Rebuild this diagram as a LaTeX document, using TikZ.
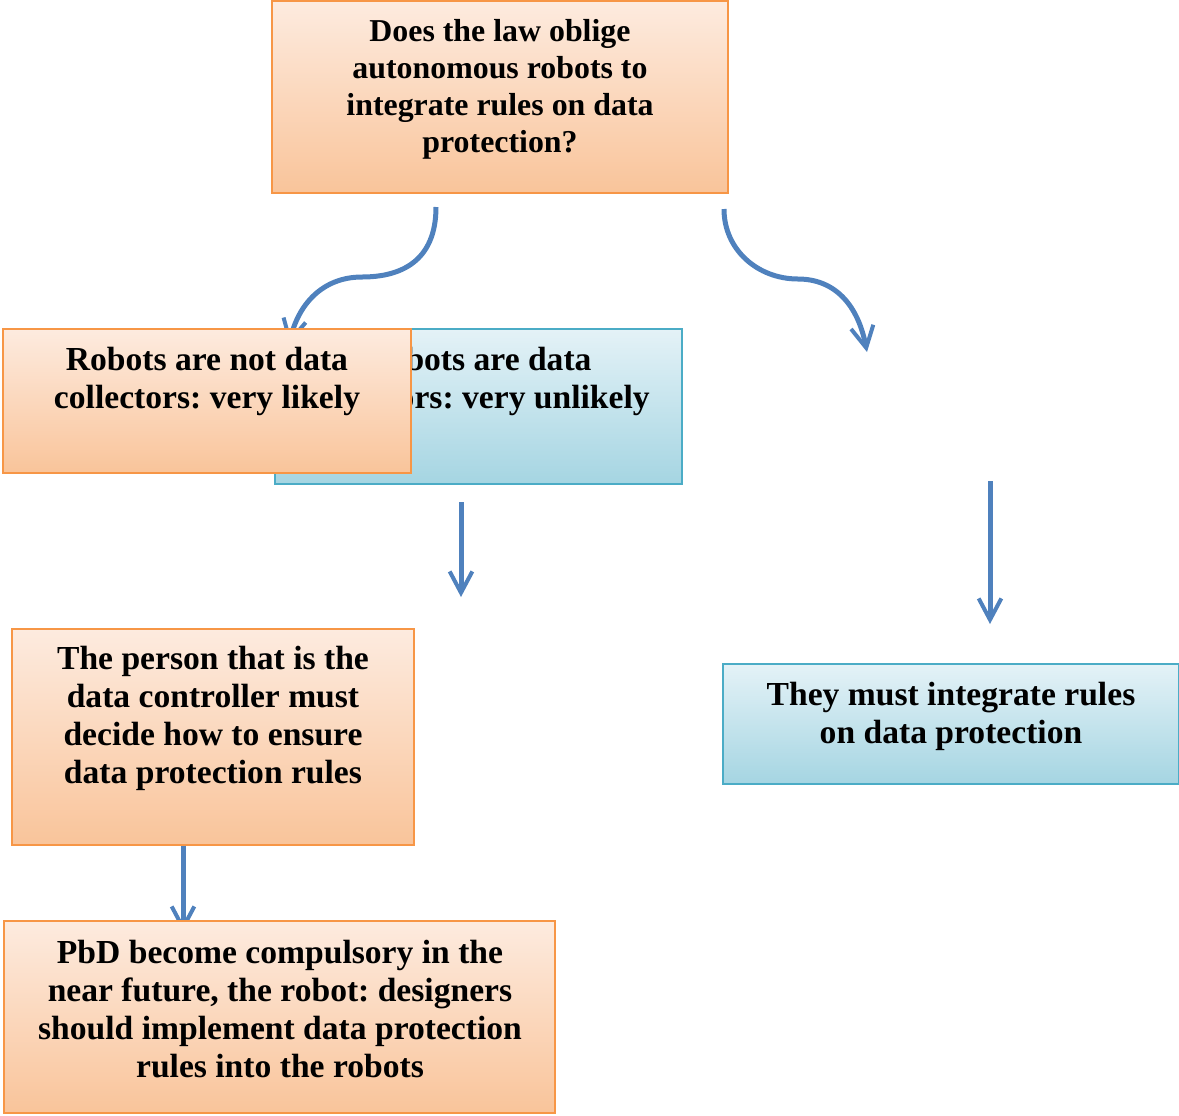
\documentclass[tikz,border=0pt]{standalone}
\usepackage{fontspec}
\setmainfont{Liberation Serif}
\frenchspacing
\usetikzlibrary{arrows.meta,fit}

\definecolor{flowblue}{HTML}{4F81BD}
\definecolor{orangeedge}{HTML}{F79646}
\definecolor{orangetop}{HTML}{FDEBDF}
\definecolor{orangebot}{HTML}{F9C49A}
\definecolor{blueedge}{HTML}{4BACC6}
\definecolor{bluetop}{HTML}{E4F2F7}
\definecolor{bluebot}{HTML}{A5D5E2}

\tikzset{
  orangebox/.style={draw=orangeedge, line width=0.9pt, top color=orangetop,
    bottom color=orangebot, inner sep=0pt},
  bluebox/.style={draw=blueedge, line width=0.9pt, top color=bluetop,
    bottom color=bluebot, inner sep=0pt},
  boxtext/.style={font=\bfseries\fontsize{25.2}{28.5}\selectfont,
    align=center, inner sep=0pt, text=black},
  questiontext/.style={font=\bfseries\fontsize{23.9}{27.75}\selectfont,
    align=center, inner sep=0pt, text=black},
  flow/.style={draw=flowblue, line width=3.75pt,
    -{Straight Barb[length=16pt,width=17pt,line width=3pt]}}
}

\begin{document}
\begin{tikzpicture}[x=0.75pt,y=-0.75pt]
  \useasboundingbox (0,0) rectangle (1179,1115);

  % the question at the top
  \node[orangebox, fit={(272,1) (728,193)}] (question) {};
  \node[questiontext] (questiontxt) at (500,89)
    {Does the law oblige\\autonomous robots to\\integrate rules on data\\protection?};

  % connector end points
  \coordinate (leftstart) at (436,207);
  \coordinate (leftend) at (289,345);
  \coordinate (rightstart) at (724,209);
  \coordinate (rightend) at (867,352);
  \coordinate (midstart) at (461,502);
  \coordinate (midend) at (461,597);
  \coordinate (farstart) at (990,481);
  \coordinate (farend) at (990,624);

  % curved connectors from the question
  \draw[flow] (leftstart) .. controls (436,262) and (400,277) .. (362,277)
    .. controls (322,277) and (298,305) .. (leftend);
  \draw[flow] (rightstart) .. controls (724,250) and (758,279) .. (798,279)
    .. controls (835,279) and (858,305) .. (rightend);

  % the two answers, one laid over the other
  \node[bluebox, fit={(275,329) (682,484)}] (unlikely) {};
  \node[boxtext] (unlikelytxt) at (478,381)
    {Robots are data\\collectors: very unlikely};
  \node[orangebox, fit={(3,329) (411,473)}] (likely) {};
  \node[boxtext] (likelytxt) at (207,381)
    {Robots are not data\\collectors: very likely};

  % straight connectors
  \draw[flow] (midstart) -- (midend);
  \draw[flow] (farstart) -- (farend);

  % left branch
  \node[orangebox, fit={(12,629) (414,845)}] (controller) {};
  \node[boxtext] (controllertxt) at (213,718)
    {The person that is the\\data controller must\\decide how to ensure\\data protection rules};

  \coordinate (pbdend) at (183,932);
  \draw[flow] (controller.south -| pbdend) -- (pbdend);

  \node[orangebox, fit={(4,921) (555,1113)}] (pbd) {};
  \node[boxtext] (pbdtxt) at (280,1009)
    {PbD become compulsory in the\\near future, the robot: designers\\should implement data protection\\rules into the robots};

  % right branch
  \node[bluebox, fit={(723,664) (1179,784)}] (integrate) {};
  \node[boxtext] (integratetxt) at (951,716)
    {They must integrate rules\\on data protection};
\end{tikzpicture}
\end{document}
